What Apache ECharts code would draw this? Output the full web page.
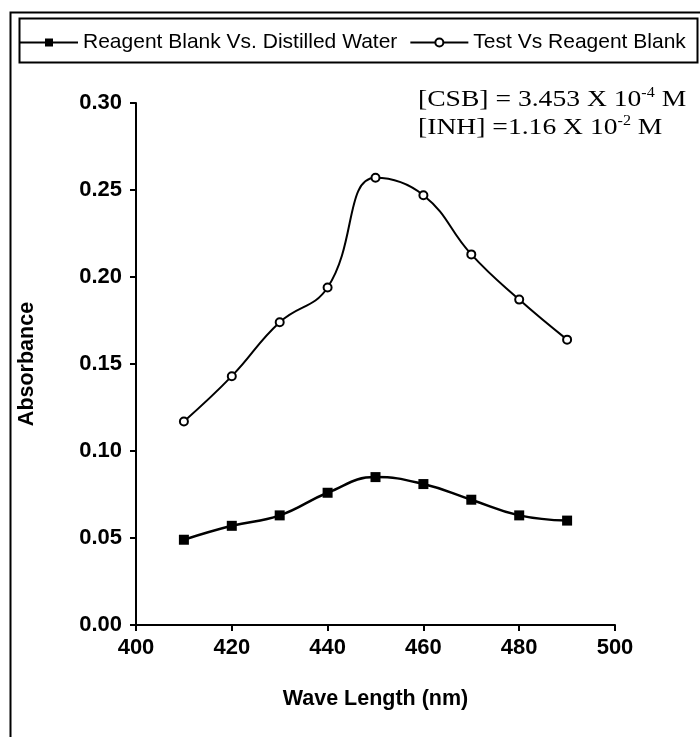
<!DOCTYPE html>
<html>
<head>
<meta charset="utf-8">
<script src="https://cdn.jsdelivr.net/npm/echarts@6/dist/echarts.min.js"></script>
<style>
html,body{margin:0;padding:0;background:#fff;}
#chart{width:700px;height:737px;}
</style>
</head>
<body>
<div id="chart"></div>
<script>
// Data
const wavelengths = [410, 420, 430, 440, 450, 460, 470, 480, 490];
const reagentBlank = [0.049, 0.057, 0.063, 0.076, 0.085, 0.081, 0.072, 0.063, 0.060];
const testVsBlank = [0.117, 0.143, 0.174, 0.194, 0.257, 0.247, 0.213, 0.187, 0.164];
const seriesNames = ['Reagent Blank Vs. Distilled Water', 'Test Vs Reagent Blank'];
const xTicks = [400, 420, 440, 460, 480, 500];
const yTicks = [0.00, 0.05, 0.10, 0.15, 0.20, 0.25, 0.30];

const pairs = (xs, ys) => xs.map((x, i) => [x, ys[i]]);

const chart = echarts.init(document.getElementById('chart'), null, {renderer: 'canvas'});
const sans = 'Liberation Sans, Arial, sans-serif';
const serif = 'Liberation Serif, Times New Roman, serif';

chart.setOption({
  backgroundColor: '#fff',
  animation: false,
  grid: {left: 136, right: 85, top: 103, bottom: 112},
  legend: {
    left: 14, top: 27, width: 690, padding: [5, 0, 5, 5],
    itemWidth: 58, itemHeight: 10, itemGap: 12,
    textStyle: {fontFamily: sans, fontSize: 21, color: '#000'},
    data: seriesNames
  },
  xAxis: {
    type: 'value', min: xTicks[0], max: xTicks[xTicks.length - 1], interval: 20,
    name: 'Wave Length (nm)', nameLocation: 'middle', nameGap: 63,
    nameTextStyle: {fontFamily: sans, fontSize: 21.5, fontWeight: 'bold', color: '#000'},
    axisLine: {lineStyle: {color: '#000', width: 2}},
    axisTick: {show: true, length: 6, lineStyle: {color: '#000', width: 2}},
    axisLabel: {fontFamily: sans, fontSize: 22, fontWeight: 'bold', color: '#000', margin: 12},
    splitLine: {show: false}
  },
  yAxis: {
    type: 'value', min: yTicks[0], max: yTicks[yTicks.length - 1], interval: 0.05,
    name: 'Absorbance', nameLocation: 'middle', nameGap: 98, nameRotate: 90,
    nameTextStyle: {fontFamily: sans, fontSize: 21.5, fontWeight: 'bold', color: '#000'},
    axisLine: {show: true, lineStyle: {color: '#000', width: 2}},
    axisTick: {show: true, length: 6, lineStyle: {color: '#000', width: 2}},
    axisLabel: {fontFamily: sans, fontSize: 22, fontWeight: 'bold', color: '#000', margin: 14,
      formatter: v => v.toFixed(2)},
    splitLine: {show: false}
  },
  series: [
    {
      name: seriesNames[0], type: 'line', smooth: 0.45,
      data: pairs(wavelengths, reagentBlank),
      symbol: 'rect', symbolSize: 10,
      itemStyle: {color: '#000'},
      lineStyle: {color: '#000', width: 2.5}
    },
    {
      name: seriesNames[1], type: 'line', smooth: 0.45,
      data: pairs(wavelengths, testVsBlank),
      symbol: 'circle', symbolSize: 8,
      itemStyle: {color: '#fff', borderColor: '#000', borderWidth: 2},
      lineStyle: {color: '#000', width: 2}
    }
  ],
  graphic: [
    {type: 'rect', left: 8, top: 10, shape: {width: 760, height: 760},
      style: {fill: null, stroke: '#000', lineWidth: 2}, z: 10},
    {type: 'rect', left: 17, top: 16, shape: {width: 678, height: 44},
      style: {fill: null, stroke: '#000', lineWidth: 2}, z: 10},
    {type: 'text', x: 418, y: 86, scaleX: 1.15, z: 10,
      style: {
        text: '[CSB] = 3.453 X 10{s|-4} M\n[INH] =1.16 X 10{s|-2} M',
        font: '24px ' + serif, fill: '#000', lineHeight: 28,
        rich: {s: {fontSize: 14, verticalAlign: 'top', padding: [0, 0, 12, 0], fontFamily: serif}}
      }}
  ]
});
</script>
</body>
</html>
